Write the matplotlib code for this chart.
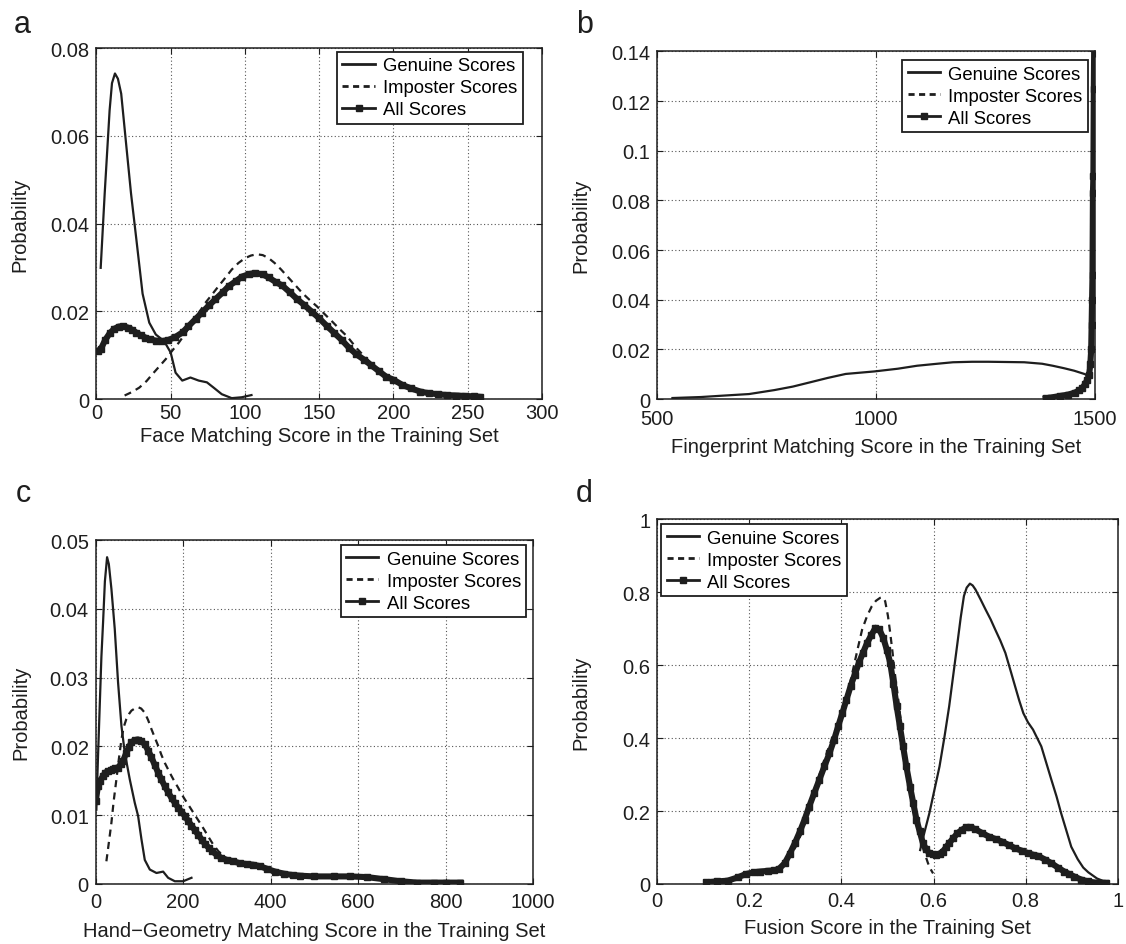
import matplotlib
matplotlib.use("Agg")
import matplotlib.pyplot as plt
from matplotlib.lines import Line2D
from matplotlib.ticker import FuncFormatter, MultipleLocator

plt.rcParams['font.family'] = ['Liberation Sans', 'DejaVu Sans']

# ---------------- (a) face ----------------
a_gen_x = [2.9, 5.6, 8.9, 10.5, 12.5, 14.5, 16.7, 20, 23.3, 26.7, 31.1, 35.6, 40, 45.6, 50, 53.3,
           57.8, 63.3, 68.9, 74.4, 78.9, 84.4, 91.1, 97.8, 104.4]
a_gen_y = [0.0299, 0.0469, 0.0658, 0.0720, 0.0742, 0.0730, 0.0696, 0.0582, 0.0469, 0.0370, 0.0240,
           0.0174, 0.0147, 0.0132, 0.0106, 0.0060, 0.0042, 0.0049, 0.0042, 0.0038, 0.0026, 0.0011,
           0.0002, 0.0004, 0.0009]

a_imp_x = [19, 24, 28.9, 33.8, 37.8, 42, 46.7, 51, 55.6, 60, 64.4, 68.9, 73.3, 77.8, 82.2, 86.7,
           91.1, 95.6, 100, 104, 108, 112, 116, 120, 124.4, 128.4, 133.5, 138.5, 143.5, 148.5,
           153.5, 158.6, 163.5, 168.7, 175.4, 181, 187, 193, 200, 210, 220, 230, 240, 250, 258]
a_imp_y = [0.0008, 0.0016, 0.0026, 0.0041, 0.0057, 0.0073, 0.0091, 0.0110, 0.0129, 0.0150, 0.0174,
           0.0196, 0.0219, 0.0238, 0.0257, 0.0276, 0.0295, 0.0310, 0.0321, 0.0327, 0.0330, 0.0328,
           0.0321, 0.0310, 0.0295, 0.0280, 0.0261, 0.0242, 0.0226, 0.0211, 0.0194, 0.0177, 0.0160,
           0.0143, 0.0115, 0.0095, 0.0075, 0.0058, 0.0044, 0.0028, 0.0017, 0.0011, 0.0008, 0.0006,
           0.0004]

a_all_x = [1, 3, 6, 9, 12, 15, 18, 21, 24, 27, 30, 33, 36, 40, 44, 48, 53, 58, 62, 67, 71, 76, 80,
           85, 89, 94, 98, 103, 107, 112, 116, 121, 125, 130, 135, 140, 145, 150, 155, 160, 165,
           170, 175, 180, 185, 190, 195, 200, 206, 212, 218, 224, 230, 236, 242, 248, 254, 258]
a_all_y = [0.0110, 0.0114, 0.0135, 0.0150, 0.0160, 0.0165, 0.0166, 0.0163, 0.0158, 0.0151, 0.0145,
           0.0140, 0.0136, 0.0133, 0.0132, 0.0134, 0.0141, 0.0152, 0.0166, 0.0183, 0.0197, 0.0214,
           0.0227, 0.0243, 0.0257, 0.0269, 0.0279, 0.0285, 0.0287, 0.0284, 0.0277, 0.0266, 0.0259,
           0.0244, 0.0228, 0.0214, 0.0199, 0.0184, 0.0167, 0.0151, 0.0135, 0.0117, 0.0102, 0.0090,
           0.0077, 0.0064, 0.0051, 0.0044, 0.0032, 0.0024, 0.0017, 0.0013, 0.0011, 0.0009, 0.0008,
           0.0007, 0.0006, 0.0005]

# ---------------- (b) fingerprint ----------------
b_gen_x = [535, 600, 645, 710, 768, 810, 849, 890, 931, 996, 1050, 1094, 1140, 1176, 1220, 1257,
           1300, 1339, 1380, 1404, 1430, 1453, 1478, 1490]
b_gen_y = [0.0004, 0.0008, 0.0013, 0.0020, 0.0036, 0.0050, 0.0067, 0.0085, 0.0101, 0.0111, 0.0122,
           0.0134, 0.0142, 0.0148, 0.0150, 0.0150, 0.0149, 0.0148, 0.0142, 0.0134, 0.0124, 0.0114,
           0.0100, 0.0085]

b_imp_x = [1388, 1400, 1420, 1440, 1455, 1465, 1472, 1478, 1483, 1487, 1490, 1492, 1493, 1494,
           1495, 1496, 1497, 1498, 1499]
b_imp_y = [0.0003, 0.0006, 0.0010, 0.0016, 0.0024, 0.0032, 0.0042, 0.0056, 0.0072, 0.0090, 0.0125,
           0.0190, 0.0280, 0.0400, 0.0520, 0.0750, 0.0950, 0.1250, 0.1500]

b_all_x = [1388, 1400, 1420, 1440, 1455, 1465, 1472, 1478, 1483, 1487, 1490, 1492, 1493, 1494,
           1495, 1496, 1497, 1498, 1499]
b_all_y = [0.0003, 0.0006, 0.0012, 0.0018, 0.0026, 0.0035, 0.0045, 0.0060, 0.0078, 0.0095, 0.0140,
           0.0200, 0.0300, 0.0400, 0.0500, 0.0830, 0.0900, 0.1250, 0.1450]

# ---------------- (c) hand geometry ----------------
c_gen_x = [1.5, 5, 9.2, 13, 16.8, 21, 26, 30, 35.9, 43.5, 51.1, 58.8, 66.4, 77.9, 89.3, 96.9, 104.6,
           112.2, 123.7, 138.9, 154.2, 165.6, 180.9, 200, 219]
c_gen_y = [0.0108, 0.0180, 0.0259, 0.0330, 0.0380, 0.0440, 0.0475, 0.0465, 0.0429, 0.0371, 0.0293,
           0.0230, 0.0191, 0.0152, 0.0118, 0.0099, 0.0065, 0.0035, 0.0021, 0.0016, 0.0018, 0.0009,
           0.0004, 0.0004, 0.0009]

c_imp_x = [24.4, 30, 35.9, 41, 47.3, 53, 58.8, 64, 70.2, 76, 81.7, 89, 96.9, 104, 112.2, 120,
           127.5, 135, 142.7, 150, 158, 166, 173.3, 181, 188.5, 196, 203.8, 211, 219, 228, 238.2,
           248, 257.3, 268, 280, 291, 303, 340, 380, 430, 500, 560, 640, 700, 834]
c_imp_y = [0.0033, 0.0060, 0.0089, 0.0120, 0.0152, 0.0182, 0.0210, 0.0228, 0.0240, 0.0247, 0.0252,
           0.0255, 0.0257, 0.0255, 0.0249, 0.0238, 0.0225, 0.0213, 0.0201, 0.0188, 0.0176, 0.0166,
           0.0157, 0.0148, 0.0140, 0.0131, 0.0123, 0.0116, 0.0108, 0.0099, 0.0089, 0.0079, 0.0069,
           0.0058, 0.0048, 0.0041, 0.0035, 0.0029, 0.0024, 0.0016, 0.0012, 0.0011, 0.0010, 0.0004,
           0.0002]

c_all_x = [0, 5, 10, 16.8, 22, 28.2, 34, 39.7, 45, 51.1, 57, 62.6, 70.2, 76, 81.7, 89, 96.9, 104,
           112.2, 120, 127.5, 135, 142.7, 150, 158, 166, 173.3, 181, 188.5, 196, 203.8, 211, 219,
           227, 235, 243, 250, 258, 266, 277, 287, 300, 315, 330, 345, 360, 375, 392, 410, 430,
           450, 468, 500, 544, 582, 620, 659, 697, 735, 773, 800, 834]
c_all_y = [0.0120, 0.0142, 0.0150, 0.0157, 0.0162, 0.0164, 0.0165, 0.0167, 0.0168, 0.0169, 0.0174,
           0.0179, 0.0191, 0.0199, 0.0206, 0.0209, 0.0210, 0.0208, 0.0203, 0.0194, 0.0184, 0.0173,
           0.0162, 0.0152, 0.0142, 0.0133, 0.0125, 0.0118, 0.0111, 0.0105, 0.0099, 0.0092, 0.0085,
           0.0078, 0.0071, 0.0064, 0.0058, 0.0053, 0.0048, 0.0042, 0.0038, 0.0035, 0.0033, 0.0030,
           0.0029, 0.0028, 0.0026, 0.0022, 0.0018, 0.0015, 0.0013, 0.0012, 0.0011, 0.0011, 0.0011,
           0.0010, 0.0007, 0.0004, 0.0002, 0.0002, 0.0002, 0.0002]

# ---------------- (d) fusion ----------------
d_gen_x = [0.571, 0.58, 0.591, 0.602, 0.613, 0.624, 0.634, 0.643, 0.652, 0.659, 0.666, 0.672,
           0.679, 0.685, 0.691, 0.702, 0.713, 0.724, 0.734, 0.745, 0.756, 0.766, 0.777, 0.786,
           0.795, 0.805, 0.816, 0.825, 0.834, 0.845, 0.856, 0.867, 0.877, 0.888, 0.899, 0.913,
           0.925, 0.936, 0.955, 0.965, 0.975]
d_gen_y = [0.093, 0.14, 0.194, 0.258, 0.322, 0.405, 0.487, 0.574, 0.661, 0.73, 0.789, 0.812, 0.823,
           0.818, 0.807, 0.78, 0.752, 0.725, 0.697, 0.667, 0.633, 0.59, 0.542, 0.503, 0.468, 0.443,
           0.423, 0.4, 0.377, 0.331, 0.285, 0.24, 0.194, 0.148, 0.102, 0.068, 0.045, 0.032, 0.015,
           0.01, 0.005]

d_imp_x = [0.107, 0.13, 0.153, 0.175, 0.192, 0.21, 0.223, 0.24, 0.254, 0.265, 0.278, 0.29, 0.3,
           0.312, 0.324, 0.336, 0.349, 0.36, 0.37, 0.384, 0.395, 0.406, 0.416, 0.427, 0.436, 0.445,
           0.456, 0.466, 0.475, 0.484, 0.49, 0.495, 0.501, 0.506, 0.511, 0.516, 0.524, 0.531,
           0.538, 0.545, 0.552, 0.559, 0.566, 0.574, 0.581, 0.588, 0.594, 0.599]
d_imp_y = [0.005, 0.007, 0.009, 0.018, 0.027, 0.032, 0.034, 0.036, 0.037, 0.042, 0.057, 0.08, 0.1,
           0.135, 0.18, 0.232, 0.285, 0.33, 0.365, 0.414, 0.44, 0.47, 0.535, 0.597, 0.648, 0.697,
           0.735, 0.761, 0.776, 0.784, 0.785, 0.775, 0.735, 0.688, 0.635, 0.578, 0.5, 0.423, 0.363,
           0.304, 0.253, 0.203, 0.155, 0.112, 0.083, 0.057, 0.04, 0.029]

d_all_x = [0.107, 0.13, 0.153, 0.175, 0.192, 0.21, 0.223, 0.24, 0.254, 0.265, 0.277, 0.288, 0.299,
           0.31, 0.32, 0.33, 0.341, 0.352, 0.363, 0.374, 0.384, 0.393, 0.402, 0.411, 0.42, 0.429,
           0.438, 0.447, 0.456, 0.465, 0.474, 0.482, 0.491, 0.499, 0.506, 0.513, 0.52, 0.527,
           0.534, 0.541, 0.549, 0.556, 0.563, 0.57, 0.577, 0.584, 0.591, 0.598, 0.606, 0.613,
           0.62, 0.627, 0.634, 0.643, 0.652, 0.661, 0.67, 0.68, 0.691, 0.705, 0.72, 0.735, 0.749,
           0.763, 0.777, 0.792, 0.806, 0.817, 0.827, 0.842, 0.856, 0.87, 0.884, 0.895, 0.906,
           0.921, 0.935, 0.95, 0.965, 0.975]
d_all_y = [0.005, 0.007, 0.009, 0.018, 0.027, 0.032, 0.034, 0.036, 0.037, 0.042, 0.057, 0.083,
           0.112, 0.144, 0.176, 0.212, 0.249, 0.285, 0.322, 0.358, 0.395, 0.432, 0.468, 0.505,
           0.542, 0.574, 0.606, 0.634, 0.661, 0.682, 0.702, 0.698, 0.674, 0.64, 0.606, 0.548,
           0.487, 0.432, 0.377, 0.322, 0.267, 0.222, 0.176, 0.144, 0.112, 0.095, 0.084, 0.081,
           0.08, 0.083, 0.089, 0.1, 0.112, 0.126, 0.139, 0.148, 0.155, 0.156, 0.15, 0.14, 0.13,
           0.123, 0.116, 0.107, 0.098, 0.091, 0.084, 0.08, 0.077, 0.067, 0.057, 0.045, 0.034,
           0.027, 0.02, 0.012, 0.007, 0.004, 0.003, 0.003]

series_labels = ['Genuine Scores', 'Imposter Scores', 'All Scores']

panels = [
    dict(letter='a', rect=[0.0856, 0.5767, 0.3958, 0.3714], letter_xy=(0.0124, 0.965),
         xlabel='Face Matching Score in the Training Set', xlabel_y=-0.076, xpad=3,
         ylabel_x=-0.151,
         xlim=(0, 300), xstep=50, ylim=(0, 0.08), ystep=0.02,
         gen=(a_gen_x, a_gen_y), imp=(a_imp_x, a_imp_y), all=(a_all_x, a_all_y),
         legend=('upper right', (0.957, 0.989))),
    dict(letter='b', rect=[0.5836, 0.5767, 0.3886, 0.3679], letter_xy=(0.5116, 0.965),
         xlabel='Fingerprint Matching Score in the Training Set', xlabel_y=-0.108, xpad=7.5,
         ylabel_x=-0.153,
         xlim=(500, 1500), xstep=500, ylim=(0, 0.14), ystep=0.02,
         gen=(b_gen_x, b_gen_y), imp=(b_imp_x, b_imp_y), all=(b_all_x, b_all_y),
         legend=('upper right', (0.985, 0.974))),
    dict(letter='c', rect=[0.0850, 0.0635, 0.3884, 0.3640], letter_xy=(0.0142, 0.4688),
         xlabel='Hand\u2212Geometry Matching Score in the Training Set', xlabel_y=-0.108, xpad=6,
         ylabel_x=-0.150,
         xlim=(0, 1000), xstep=200, ylim=(0, 0.05), ystep=0.01,
         gen=(c_gen_x, c_gen_y), imp=(c_imp_x, c_imp_y), all=(c_all_x, c_all_y),
         legend=('upper right', (0.985, 0.985))),
    dict(letter='d', rect=[0.5836, 0.0635, 0.4091, 0.3862], letter_xy=(0.5116, 0.4688),
         xlabel='Fusion Score in the Training Set', xlabel_y=-0.094, xpad=5,
         ylabel_x=-0.145,
         xlim=(0, 1), xstep=0.2, ylim=(0, 1), ystep=0.2,
         gen=(d_gen_x, d_gen_y), imp=(d_imp_x, d_imp_y), all=(d_all_x, d_all_y),
         legend=('upper left', (0.009, 0.986))),
]

INK = '#1e1e1e'
FS = 14.5
fmt = FuncFormatter(lambda v, p: '%g' % round(v, 6))

fig = plt.figure(figsize=(11.26, 9.45), dpi=100)

for p in panels:
    ax = fig.add_axes(p['rect'])
    gx, gy = p['gen']
    ix, iy = p['imp']
    cx, cy = p['all']
    ax.plot(gx, gy, color=INK, lw=1.6, zorder=3)
    ax.plot(ix, iy, color=INK, lw=1.6, linestyle=(0, (3.2, 2.4)), zorder=3)
    ax.plot(cx, cy, color=INK, lw=4.4, marker='s', ms=4.6, mec=INK, mfc=INK,
            solid_joinstyle='round', zorder=4)

    ax.set_xlim(*p['xlim'])
    ax.set_ylim(*p['ylim'])
    ax.xaxis.set_major_locator(MultipleLocator(p['xstep']))
    ax.yaxis.set_major_locator(MultipleLocator(p['ystep']))
    ax.xaxis.set_major_formatter(fmt)
    ax.yaxis.set_major_formatter(fmt)
    ax.tick_params(direction='in', length=4, width=0.8, top=True, right=True,
                   labelsize=FS, colors=INK)
    ax.tick_params(axis='y', pad=5)
    ax.tick_params(axis='x', pad=p['xpad'])
    ax.grid(True, linestyle=(0, (1, 2.2)), color='#555555', linewidth=0.8)
    for s in ax.spines.values():
        s.set_linewidth(1.1)
        s.set_color(INK)

    ax.set_xlabel(p['xlabel'], fontsize=FS, color=INK)
    ax.set_ylabel('Probability', fontsize=FS, color=INK)
    ax.xaxis.set_label_coords(0.5, p['xlabel_y'])
    ax.yaxis.set_label_coords(p['ylabel_x'], 0.5)

    handles = [
        Line2D([], [], color=INK, lw=2.0),
        Line2D([], [], color=INK, lw=2.0, linestyle=(0, (2.2, 1.6))),
        Line2D([], [], color=INK, lw=2.0, marker='s', ms=4.2),
    ]
    loc, anchor = p['legend']
    leg = ax.legend(handles, series_labels, loc=loc, bbox_to_anchor=anchor,
                    borderaxespad=0, fontsize=13.3, frameon=True, fancybox=False,
                    handlelength=1.75, handletextpad=0.45, labelspacing=0.27,
                    borderpad=0.3)
    fr = leg.get_frame()
    fr.set_edgecolor(INK)
    fr.set_linewidth(1.3)
    fr.set_facecolor('white')
    fr.set_alpha(1.0)
    leg.set_zorder(10)

    fig.text(p['letter_xy'][0], p['letter_xy'][1], p['letter'], fontsize=22, color=INK,
             ha='left', va='baseline')

fig.savefig('out.png', dpi=100, facecolor='white')
